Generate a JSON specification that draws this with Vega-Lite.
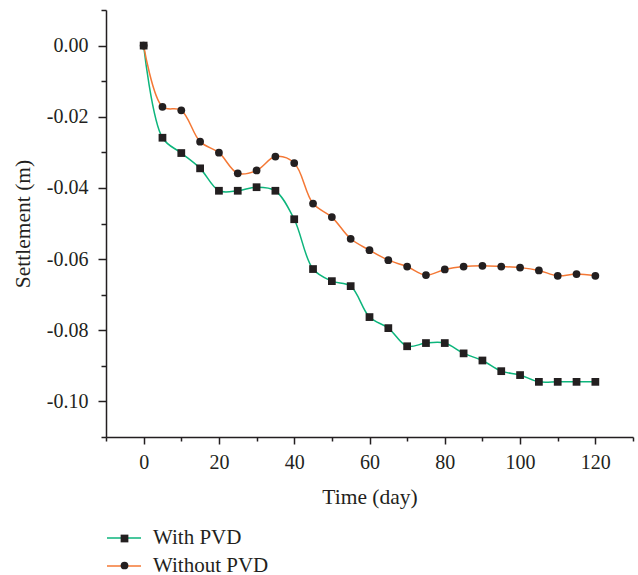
{
  "$schema": "https://vega.github.io/schema/vega-lite/v6.json",
  "autosize": "none",
  "padding": {"left": 106, "top": 10, "right": 5, "bottom": 138},
  "width": 527,
  "height": 427,
  "background": "white",
  "config": {
    "view": {"stroke": null},
    "font": "Liberation Serif",
    "axis": {
      "labelFont": "Liberation Serif",
      "titleFont": "Liberation Serif",
      "labelFontSize": 20,
      "titleFontSize": 21.5,
      "titleFontWeight": "normal",
      "labelColor": "#231f20",
      "titleColor": "#231f20",
      "domainColor": "#231f20",
      "tickColor": "#231f20",
      "domainWidth": 1.5,
      "tickWidth": 1.5,
      "grid": false,
      "labelOverlap": false,
      "labelFlush": false
    },
    "legend": {
      "labelFont": "Liberation Serif",
      "labelFontSize": 21,
      "labelColor": "#231f20",
      "padding": 0
    }
  },
  "data": {
    "values": [
      {"day": 0, "settlement": 0.0, "series": "With PVD"},
      {"day": 5, "settlement": -0.0259, "series": "With PVD"},
      {"day": 10, "settlement": -0.0302, "series": "With PVD"},
      {"day": 15, "settlement": -0.0345, "series": "With PVD"},
      {"day": 20, "settlement": -0.0408, "series": "With PVD"},
      {"day": 25, "settlement": -0.0408, "series": "With PVD"},
      {"day": 30, "settlement": -0.0398, "series": "With PVD"},
      {"day": 35, "settlement": -0.0408, "series": "With PVD"},
      {"day": 40, "settlement": -0.0488, "series": "With PVD"},
      {"day": 45, "settlement": -0.0628, "series": "With PVD"},
      {"day": 50, "settlement": -0.0662, "series": "With PVD"},
      {"day": 55, "settlement": -0.0676, "series": "With PVD"},
      {"day": 60, "settlement": -0.0763, "series": "With PVD"},
      {"day": 65, "settlement": -0.0794, "series": "With PVD"},
      {"day": 70, "settlement": -0.0845, "series": "With PVD"},
      {"day": 75, "settlement": -0.0836, "series": "With PVD"},
      {"day": 80, "settlement": -0.0836, "series": "With PVD"},
      {"day": 85, "settlement": -0.0865, "series": "With PVD"},
      {"day": 90, "settlement": -0.0885, "series": "With PVD"},
      {"day": 95, "settlement": -0.0915, "series": "With PVD"},
      {"day": 100, "settlement": -0.0926, "series": "With PVD"},
      {"day": 105, "settlement": -0.0945, "series": "With PVD"},
      {"day": 110, "settlement": -0.0945, "series": "With PVD"},
      {"day": 115, "settlement": -0.0945, "series": "With PVD"},
      {"day": 120, "settlement": -0.0945, "series": "With PVD"},
      {"day": 0, "settlement": 0.0, "series": "Without PVD"},
      {"day": 5, "settlement": -0.0172, "series": "Without PVD"},
      {"day": 10, "settlement": -0.0182, "series": "Without PVD"},
      {"day": 15, "settlement": -0.027, "series": "Without PVD"},
      {"day": 20, "settlement": -0.0301, "series": "Without PVD"},
      {"day": 25, "settlement": -0.0359, "series": "Without PVD"},
      {"day": 30, "settlement": -0.0351, "series": "Without PVD"},
      {"day": 35, "settlement": -0.0312, "series": "Without PVD"},
      {"day": 40, "settlement": -0.033, "series": "Without PVD"},
      {"day": 45, "settlement": -0.0444, "series": "Without PVD"},
      {"day": 50, "settlement": -0.0482, "series": "Without PVD"},
      {"day": 55, "settlement": -0.0543, "series": "Without PVD"},
      {"day": 60, "settlement": -0.0575, "series": "Without PVD"},
      {"day": 65, "settlement": -0.0603, "series": "Without PVD"},
      {"day": 70, "settlement": -0.0621, "series": "Without PVD"},
      {"day": 75, "settlement": -0.0645, "series": "Without PVD"},
      {"day": 80, "settlement": -0.0629, "series": "Without PVD"},
      {"day": 85, "settlement": -0.0621, "series": "Without PVD"},
      {"day": 90, "settlement": -0.0619, "series": "Without PVD"},
      {"day": 95, "settlement": -0.0621, "series": "Without PVD"},
      {"day": 100, "settlement": -0.0624, "series": "Without PVD"},
      {"day": 105, "settlement": -0.0632, "series": "Without PVD"},
      {"day": 110, "settlement": -0.0647, "series": "Without PVD"},
      {"day": 115, "settlement": -0.0642, "series": "Without PVD"},
      {"day": 120, "settlement": -0.0647, "series": "Without PVD"}
    ]
  },
  "encoding": {
    "x": {
      "field": "day",
      "type": "quantitative",
      "scale": {"domain": [-10, 130], "nice": false, "zero": false},
      "axis": {
        "title": "Time (day)",
        "titlePadding": 14,
        "values": [-10, 0, 10, 20, 30, 40, 50, 60, 70, 80, 90, 100, 110, 120, 130],
        "labelExpr": "datum.value % 20 == 0 ? datum.label : ''",
        "tickSize": {"condition": {"test": "datum.value % 20 == 0", "value": 7}, "value": 4},
        "labelPadding": 8
      }
    },
    "y": {
      "field": "settlement",
      "type": "quantitative",
      "scale": {"domain": [-0.11, 0.01], "nice": false, "zero": false},
      "axis": {
        "title": "Settlement (m)",
        "titlePadding": 12,
        "values": [-0.11, -0.1, -0.09, -0.08, -0.07, -0.06, -0.05, -0.04, -0.03, -0.02, -0.01, 0, 0.01],
        "labelExpr": "abs(round(datum.value*100)) % 2 == 0 ? replace(format(datum.value, '.2f'), '\u2212', '-') : ''",
        "tickSize": {"condition": {"test": "abs(round(datum.value*100)) % 2 == 0", "value": 8}, "value": 5},
        "labelPadding": 10
      }
    }
  },
  "layer": [
    {
      "mark": {"type": "line", "interpolate": "catmull-rom", "strokeWidth": 1.5},
      "encoding": {
        "color": {
          "field": "series",
          "type": "nominal",
          "scale": {"domain": ["With PVD", "Without PVD"], "range": ["#0db57c", "#f47835"]},
          "legend": {
            "title": null,
            "orient": "none",
            "legendX": 0,
            "legendY": 510,
            "symbolType": "stroke",
            "symbolSize": 1156,
            "symbolStrokeWidth": 1.5,
            "labelOffset": 11,
            "rowPadding": -9.5
          }
        }
      }
    },
    {
      "mark": {"type": "point", "filled": true, "color": "#231f20", "opacity": 1, "size": 60},
      "encoding": {
        "shape": {
          "field": "series",
          "type": "nominal",
          "scale": {"range": ["square", "circle"]},
          "legend": {
            "title": null,
            "orient": "none",
            "legendX": 8,
            "legendY": 518,
            "symbolSize": 60,
            "symbolFillColor": "#231f20",
            "symbolStrokeColor": "#231f20",
            "symbolOpacity": 1,
            "labelExpr": "''",
            "labelOffset": 11,
            "rowPadding": 5
          }
        }
      }
    }
  ]
}
